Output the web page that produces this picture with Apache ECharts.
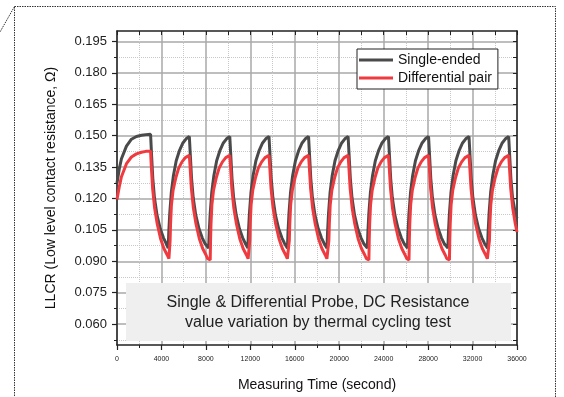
<!DOCTYPE html>
<html>
<head>
<meta charset="utf-8">
<script src="https://cdn.jsdelivr.net/npm/echarts@6/dist/echarts.min.js"></script>
<style>
html,body{margin:0;padding:0;background:#fff;}
#c{width:564px;height:397px;}
</style>
</head>
<body>
<div id="c"></div>
<script>
// ---- data ----
const seriesNames = ['Single-ended', 'Differential pair'];
const xTicks = [0, 4000, 8000, 12000, 16000, 20000, 24000, 28000, 32000, 36000];
const yTicks = [0.060, 0.075, 0.090, 0.105, 0.120, 0.135, 0.150, 0.165, 0.180, 0.195];
const yMinorTicks = [0.0525, 0.0675, 0.0825, 0.0975, 0.1125, 0.1275, 0.1425, 0.1575, 0.1725, 0.1875];

// [time (s), resistance (ohm)]
const singleEnded = [
  [0,0.1273],[200,0.1340],[400,0.1390],[850,0.1450],[1300,0.1483],[1750,0.1496],[2200,0.1502],[2600,0.1505],[3022,0.1507],
  [3112,0.1406],[3222,0.1296],[3372,0.1203],[3602,0.1120],[3892,0.1055],[4182,0.1012],[4422,0.0985],[4610,0.0963],
  [4660,0.1040],[4750,0.1130],[4890,0.1230],[5080,0.1310],[5330,0.1380],[5630,0.1430],[5930,0.1465],[6220,0.1485],[6510,0.1496],
  [6600,0.1406],[6710,0.1296],[6860,0.1203],[7090,0.1120],[7380,0.1055],[7670,0.1012],[7910,0.0985],[8250,0.0963],
  [8300,0.1040],[8390,0.1130],[8530,0.1230],[8720,0.1310],[8970,0.1380],[9270,0.1430],[9570,0.1465],[9860,0.1485],[10150,0.1496],
  [10240,0.1406],[10350,0.1296],[10500,0.1203],[10730,0.1120],[11020,0.1055],[11310,0.1012],[11550,0.0985],[11780,0.0963],
  [11830,0.1040],[11920,0.1130],[12060,0.1230],[12250,0.1310],[12500,0.1380],[12800,0.1430],[13100,0.1465],[13390,0.1485],[13680,0.1496],
  [13770,0.1406],[13880,0.1296],[14030,0.1203],[14260,0.1120],[14550,0.1055],[14840,0.1012],[15080,0.0985],[15340,0.0963],
  [15390,0.1040],[15480,0.1130],[15620,0.1230],[15810,0.1310],[16060,0.1380],[16360,0.1430],[16660,0.1465],[16950,0.1485],[17240,0.1496],
  [17330,0.1406],[17440,0.1296],[17590,0.1203],[17820,0.1120],[18110,0.1055],[18400,0.1012],[18640,0.0985],[18900,0.0963],
  [18950,0.1040],[19040,0.1130],[19180,0.1230],[19370,0.1310],[19620,0.1380],[19920,0.1430],[20220,0.1465],[20510,0.1485],[20800,0.1496],
  [20890,0.1406],[21000,0.1296],[21150,0.1203],[21380,0.1120],[21670,0.1055],[21960,0.1012],[22200,0.0985],[22530,0.0963],
  [22580,0.1040],[22670,0.1130],[22810,0.1230],[23000,0.1310],[23250,0.1380],[23550,0.1430],[23850,0.1465],[24140,0.1485],[24430,0.1496],
  [24520,0.1406],[24630,0.1296],[24780,0.1203],[25010,0.1120],[25300,0.1055],[25590,0.1012],[25830,0.0985],[26140,0.0963],
  [26190,0.1040],[26280,0.1130],[26420,0.1230],[26610,0.1310],[26860,0.1380],[27160,0.1430],[27460,0.1465],[27750,0.1485],[28040,0.1496],
  [28130,0.1406],[28240,0.1296],[28390,0.1203],[28620,0.1120],[28910,0.1055],[29200,0.1012],[29440,0.0985],[29780,0.0963],
  [29830,0.1040],[29920,0.1130],[30060,0.1230],[30250,0.1310],[30500,0.1380],[30800,0.1430],[31100,0.1465],[31390,0.1485],[31680,0.1496],
  [31770,0.1406],[31880,0.1296],[32030,0.1203],[32260,0.1120],[32550,0.1055],[32840,0.1012],[33080,0.0985],[33350,0.0963],
  [33400,0.1040],[33490,0.1130],[33630,0.1230],[33820,0.1310],[34070,0.1380],[34370,0.1430],[34670,0.1465],[34960,0.1485],[35250,0.1496],
  [35340,0.1406],[35450,0.1296],[35600,0.1203],[35830,0.1135],[36000,0.1105]
];

const differentialPair = [
  [0,0.1195],[200,0.1255],[400,0.1304],[850,0.1366],[1300,0.1398],[1750,0.1413],[2200,0.1421],[2600,0.1425],[3022,0.1426],
  [3082,0.1359],[3202,0.1250],[3382,0.1156],[3622,0.1078],[3922,0.1008],[4222,0.0961],[4522,0.0930],[4672,0.0912],[4750,0.0906],
  [4780,0.1000],[4820,0.1080],[4900,0.1170],[5050,0.1240],[5300,0.1300],[5550,0.1345],[5850,0.1375],[6150,0.1395],[6510,0.1406],
  [6570,0.1359],[6690,0.1250],[6870,0.1156],[7110,0.1078],[7410,0.1008],[7710,0.0961],[8010,0.0930],[8160,0.0912],[8390,0.0906],
  [8420,0.1000],[8460,0.1080],[8540,0.1170],[8690,0.1240],[8940,0.1300],[9190,0.1345],[9490,0.1375],[9790,0.1395],[10150,0.1406],
  [10210,0.1359],[10330,0.1250],[10510,0.1156],[10750,0.1078],[11050,0.1008],[11350,0.0961],[11650,0.0930],[11800,0.0912],[11920,0.0906],
  [11950,0.1000],[11990,0.1080],[12070,0.1170],[12220,0.1240],[12470,0.1300],[12720,0.1345],[13020,0.1375],[13320,0.1395],[13680,0.1406],
  [13740,0.1359],[13860,0.1250],[14040,0.1156],[14280,0.1078],[14580,0.1008],[14880,0.0961],[15180,0.0930],[15330,0.0912],[15480,0.0906],
  [15510,0.1000],[15550,0.1080],[15630,0.1170],[15780,0.1240],[16030,0.1300],[16280,0.1345],[16580,0.1375],[16880,0.1395],[17240,0.1406],
  [17300,0.1359],[17420,0.1250],[17600,0.1156],[17840,0.1078],[18140,0.1008],[18440,0.0961],[18740,0.0930],[18890,0.0912],[19040,0.0906],
  [19070,0.1000],[19110,0.1080],[19190,0.1170],[19340,0.1240],[19590,0.1300],[19840,0.1345],[20140,0.1375],[20440,0.1395],[20800,0.1406],
  [20860,0.1359],[20980,0.1250],[21160,0.1156],[21400,0.1078],[21700,0.1008],[22000,0.0961],[22300,0.0930],[22450,0.0912],[22670,0.0906],
  [22700,0.1000],[22740,0.1080],[22820,0.1170],[22970,0.1240],[23220,0.1300],[23470,0.1345],[23770,0.1375],[24070,0.1395],[24430,0.1406],
  [24490,0.1359],[24610,0.1250],[24790,0.1156],[25030,0.1078],[25330,0.1008],[25630,0.0961],[25930,0.0930],[26080,0.0912],[26280,0.0906],
  [26310,0.1000],[26350,0.1080],[26430,0.1170],[26580,0.1240],[26830,0.1300],[27080,0.1345],[27380,0.1375],[27680,0.1395],[28040,0.1406],
  [28100,0.1359],[28220,0.1250],[28400,0.1156],[28640,0.1078],[28940,0.1008],[29240,0.0961],[29540,0.0930],[29690,0.0912],[29920,0.0906],
  [29950,0.1000],[29990,0.1080],[30070,0.1170],[30220,0.1240],[30470,0.1300],[30720,0.1345],[31020,0.1375],[31320,0.1395],[31680,0.1406],
  [31740,0.1359],[31860,0.1250],[32040,0.1156],[32280,0.1078],[32580,0.1008],[32880,0.0961],[33180,0.0930],[33330,0.0912],[33490,0.0906],
  [33520,0.1000],[33560,0.1080],[33640,0.1170],[33790,0.1240],[34040,0.1300],[34290,0.1345],[34590,0.1375],[34890,0.1395],[35250,0.1406],
  [35310,0.1359],[35430,0.1250],[35610,0.1156],[35850,0.1078],[36000,0.1040]
];

const annotationLines = ['Single & Differential Probe, DC Resistance', 'value variation by thermal cycling test'];
const xAxisTitle = 'Measuring Time (second)';
const yAxisTitle = 'LLCR (Low level contact resistance, \u03A9)';

// ---- chart ----
const FONT = '"Liberation Sans", Arial, Helvetica, sans-serif';
const AXIS_COLOR = '#222';
const COLORS = ['#4a4a4a', '#ef3b3f'];
const chart = echarts.init(document.getElementById('c'), null, {renderer: 'canvas'});

const allYSteps = yMinorTicks.concat(yTicks).sort((a, b) => a - b);

chart.setOption({
  animation: false,
  backgroundColor: '#fff',
  textStyle: {fontFamily: FONT},
  grid: {left: 117, top: 31, width: 400, height: 321, containLabel: false},
  legend: {
    data: seriesNames.map((n, i) => ({name: n, icon: 'rect', itemStyle: {color: COLORS[i]}})),
    orient: 'vertical',
    left: 357, top: 49,
    backgroundColor: '#fff',
    borderColor: '#222', borderWidth: 1,
    padding: [3, 6, 3, 2],
    itemGap: 2,
    itemWidth: 34, itemHeight: 3,
    textStyle: {fontSize: 14, color: '#111', fontFamily: FONT, lineHeight: 16},
    z: 20
  },
  xAxis: [{
    type: 'value', min: xTicks[0], max: xTicks[xTicks.length - 1], interval: xTicks[1] - xTicks[0],
    position: 'bottom',
    name: xAxisTitle, nameLocation: 'middle', nameGap: 33,
    nameTextStyle: {fontSize: 14, color: '#111', fontFamily: FONT},
    axisLine: {show: true, onZero: false, lineStyle: {color: AXIS_COLOR, width: 1.5}},
    axisTick: {show: true, length: 5, lineStyle: {color: AXIS_COLOR, width: 1.2}},
    minorTick: {show: true, splitNumber: 2, length: 3, lineStyle: {color: AXIS_COLOR, width: 1}},
    axisLabel: {fontSize: 7, color: '#222', margin: 11, fontFamily: FONT, formatter: v => String(v)},
    splitLine: {show: true, lineStyle: {color: '#a8a8a8', width: 1.5}},
    minorSplitLine: {show: true, lineStyle: {color: '#c8c8c8', width: 1, type: 'dotted'}}
  }, {
    type: 'value', min: xTicks[0], max: xTicks[xTicks.length - 1], interval: 2000,
    position: 'top',
    axisLine: {show: true, onZero: false, lineStyle: {color: AXIS_COLOR, width: 1.5}},
    axisTick: {show: true, inside: true, length: 4, lineStyle: {color: AXIS_COLOR, width: 1}},
    axisLabel: {show: false},
    splitLine: {show: false}
  }],
  yAxis: [{
    type: 'value', min: 0.05, max: 0.2,
    position: 'left',
    name: yAxisTitle, nameLocation: 'middle', nameGap: 59, nameRotate: 90,
    nameTextStyle: {fontSize: 14, color: '#111', fontFamily: FONT},
    axisLine: {show: true, onZero: false, lineStyle: {color: AXIS_COLOR, width: 1.5}},
    axisTick: {show: true, length: 5, customValues: yTicks, lineStyle: {color: AXIS_COLOR, width: 1.2}},
    axisLabel: {fontSize: 13, color: '#222', margin: 10, customValues: yTicks,
      formatter: v => v.toFixed(3), fontFamily: FONT},
    splitLine: {show: true, lineStyle: {color: '#a8a8a8', width: 1.5}}
  }, {
    type: 'value', min: 0.05, max: 0.2,
    position: 'left',
    axisLine: {show: false},
    axisTick: {show: true, length: 3, customValues: yMinorTicks, lineStyle: {color: AXIS_COLOR, width: 1}},
    axisLabel: {show: false, customValues: yMinorTicks},
    splitLine: {show: true, lineStyle: {color: '#c8c8c8', width: 1, type: 'dotted'}}
  }, {
    type: 'value', min: 0.05, max: 0.2,
    position: 'right',
    axisLine: {show: true, onZero: false, lineStyle: {color: AXIS_COLOR, width: 1.5}},
    axisTick: {show: true, inside: true, length: 4, customValues: allYSteps, lineStyle: {color: AXIS_COLOR, width: 1}},
    axisLabel: {show: false, customValues: allYSteps},
    splitLine: {show: false}
  }],
  series: [{
    name: seriesNames[0], type: 'line', xAxisIndex: 0, yAxisIndex: 0,
    data: singleEnded, showSymbol: false, symbol: 'none',
    lineStyle: {color: COLORS[0], width: 3}, itemStyle: {color: COLORS[0]}, z: 3
  }, {
    name: seriesNames[1], type: 'line', xAxisIndex: 0, yAxisIndex: 0,
    data: differentialPair, showSymbol: false, symbol: 'none',
    lineStyle: {color: COLORS[1], width: 3}, itemStyle: {color: COLORS[1]}, z: 4
  }],
  graphic: [
    {type: 'rect', z: 10, shape: {x: 126, y: 283, width: 385, height: 58}, style: {fill: '#efefef'}},
    {type: 'text', z: 11, style: {text: annotationLines[0], x: 318, y: 303, textAlign: 'center', textVerticalAlign: 'middle', font: '16px ' + FONT, fill: '#222'}},
    {type: 'text', z: 11, style: {text: annotationLines[1], x: 318, y: 323, textAlign: 'center', textVerticalAlign: 'middle', font: '16px ' + FONT, fill: '#222'}},
    {type: 'rect', z: 12, shape: {x: 14.5, y: 6.5, width: 541, height: 420}, style: {fill: 'none', stroke: '#333', lineWidth: 1, lineDash: [1.5, 1]}},
    {type: 'line', z: 12, shape: {x1: 14.5, y1: 6.5, x2: 0, y2: 32}, style: {stroke: '#333', lineWidth: 1, lineDash: [1.5, 1]}}
  ]
});
</script>
</body>
</html>
